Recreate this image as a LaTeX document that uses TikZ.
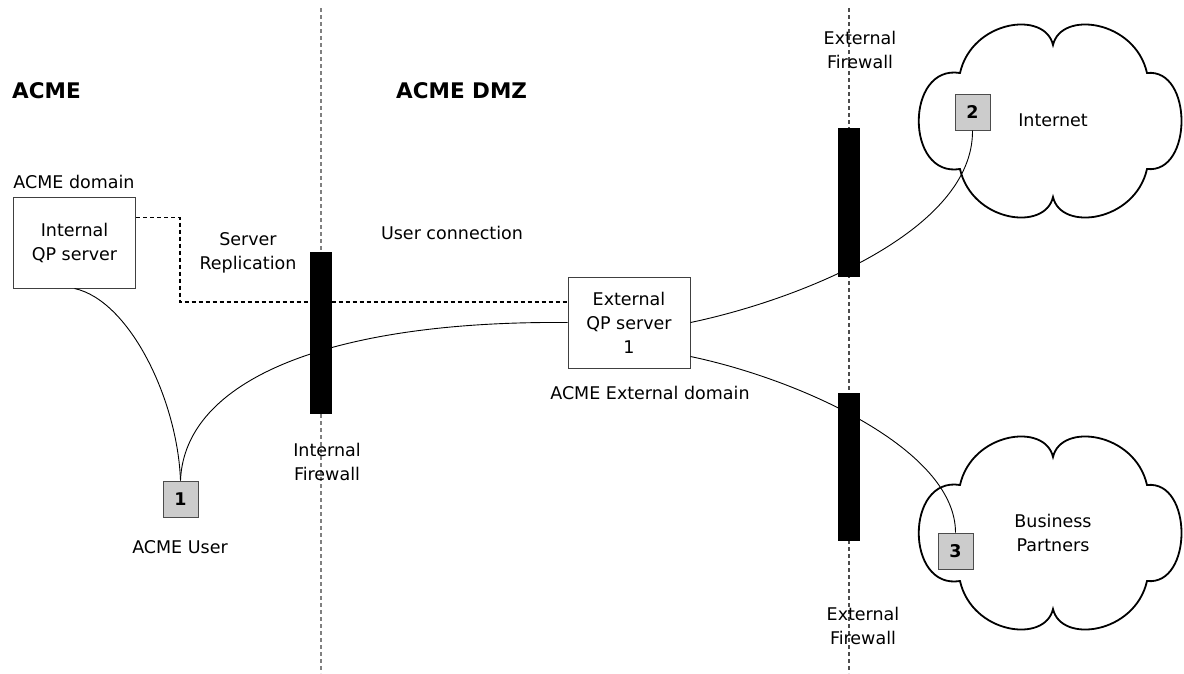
\documentclass[tikz,border=0pt]{standalone}
\usepackage{fontspec}
\setmainfont{DejaVu Sans}
\usetikzlibrary{calc}

\tikzset{
  lbl/.style={font=\fontsize{17.5}{24}\selectfont, align=center, inner sep=0pt},
  zone/.style={font=\bfseries\fontsize{21.5}{24}\selectfont, inner sep=0pt, anchor=west},
  server/.style={draw=black!75, line width=1pt, fill=white, minimum width=122pt,
    minimum height=91pt, inner sep=0pt, align=center, font=\fontsize{17.5}{24}\selectfont},
  endpoint/.style={draw=black!70, line width=1pt, fill=black!20, minimum width=35pt,
    minimum height=36pt, inner sep=0pt, font=\bfseries\fontsize{17.5}{20}\selectfont},
  wall/.style={fill=black, inner sep=0pt, minimum width=22pt},
  border/.style={black!50, line width=1.2pt, dash pattern=on 4pt off 3pt},
  link/.style={line width=0.9pt},
  repl/.style={line width=1.8pt, dash pattern=on 4pt off 3pt},
  cloudline/.style={line width=1.8pt}
}

% outline of a cloud, drawn around (1053,121)
\newcommand\cloudoutline{%
  (960,73) .. controls (972,20) and (1045,10) .. (1053,45)
  .. controls (1061,10) and (1135,20) .. (1147,73)
  .. controls (1193,68) and (1193,174) .. (1147,169)
  .. controls (1135,222) and (1061,232) .. (1053,197)
  .. controls (1045,232) and (972,222) .. (960,169)
  .. controls (905,178) and (905,64) .. cycle}

\begin{document}
\begin{tikzpicture}[x=1pt, y=-1pt]
\useasboundingbox (0,0) rectangle (1184,673);

% zone borders
\draw[border] (321,8) -- (321,673);
\draw[border, black!70] (849,8) -- (849,673);

% zone titles and labels
\node[zone] (acme) at (12,91) {ACME};
\node[zone] (dmz) at (396,91) {ACME DMZ};
\node[lbl] (intdom) at (74,182) {ACME domain};
\node[lbl] (repltxt) at (248,253) {Server\\Replication};
\node[lbl] (usertxt) at (452,233) {User connection};
\node[lbl] (extdom) at (650,393) {ACME External domain};
\node[lbl] (usrlbl) at (180,547) {ACME User};
\node[lbl] (fwintlbl) at (327,462) {Internal\\Firewall};
\node[lbl] (fwtoplbl) at (860,50) {External\\Firewall};
\node[lbl] (fwbotlbl) at (863,626) {External\\Firewall};

% firewalls
\node[wall, minimum height=162pt] (fwint) at (321,333) {};
\node[wall, minimum height=149pt] (fwtop) at (849,202.5) {};
\node[wall, minimum height=148pt] (fwbot) at (849,467) {};

% clouds
\draw[cloudline] \cloudoutline;
\draw[cloudline, shift={(0,412)}] \cloudoutline;
\node[lbl] (inettxt) at (1053,120) {Internet};
\node[lbl] (bptxt) at (1053,533) {Business\\Partners};

% servers
\node[server] (intbox) at (74.5,242.5) {Internal\\QP server};
\node[server] (extbox) at (629,322.5) {External\\QP server\\1};

% user end points
\node[endpoint] (u1) at (180.5,499) {1};
\node[endpoint] (u2) at (972.5,112) {2};
\node[endpoint] (u3) at (955.5,551) {3};

% replication link
\coordinate (rturn) at (180,302);
\draw[repl] ($(intbox.north east)+(0,21)$) -| (rturn) -- (rturn -| extbox.west);

% user connections
\draw[link] (intbox.south) .. controls +(55,12) and +(-3,-81) .. (u1.north);
\draw[link] (u1.north) .. controls +(4,-101) and +(-238,-2) .. (extbox.west);
\draw[link] (extbox.east) .. controls +(110,-23) and +(1,100) .. (u2.south);
\draw[link] ([yshift=-34pt]extbox.east) .. controls +(110,23) and +(0,-83) .. (u3.north);
\end{tikzpicture}
\end{document}
